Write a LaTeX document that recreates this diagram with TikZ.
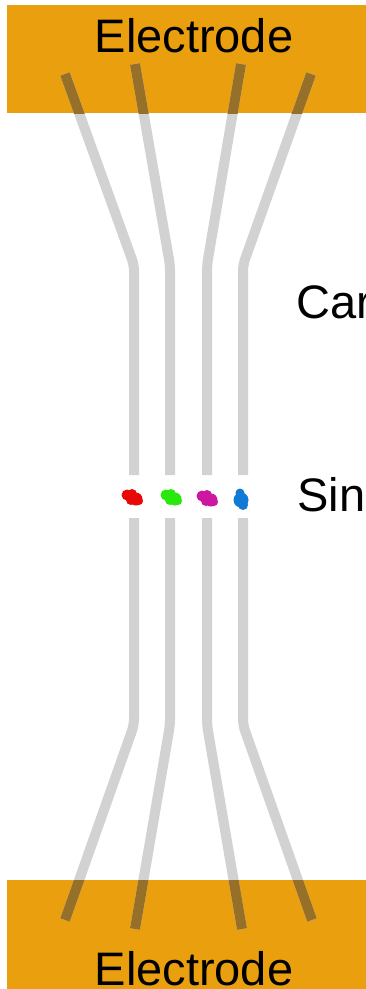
\documentclass[tikz,border=0pt]{standalone}
\usepackage{fontspec}
\setmainfont{Liberation Sans}

\definecolor{electrode}{RGB}{234,160,14}
\definecolor{tubegray}{RGB}{210,210,210}
\definecolor{tubedark}{RGB}{150,112,40}
\definecolor{molred}{RGB}{232,8,8}
\definecolor{molgreen}{RGB}{40,232,12}
\definecolor{molmagenta}{RGB}{204,24,160}
\definecolor{molblue}{RGB}{16,122,212}

\tikzset{every picture/.style={line width=0.75pt}}
\tikzset{
  tube/.style={line width=10pt, line cap=butt, line join=round, rounded corners=6pt},
  label/.style={inner sep=0pt, font=\fontsize{47}{47}\selectfont},
}

\begin{document}
\begin{tikzpicture}[x=1pt,y=1pt,yscale=-1]
	\useasboundingbox (0,0) rectangle (366,989);
	\clip (0,0) rectangle (366,989);
	
	%Shape: Rectangle [id:electrode top] 
	\fill [electrode] (7,5) rectangle (370,113);
	%Shape: Rectangle [id:electrode bottom] 
	\fill [electrode] (7,880) rectangle (370,995);
	
	%Nanotubes, upper halves 
	\draw [tube, tubegray] (65,74) -- (134,265) -- (134,475);
	\draw [tube, tubegray] (135,64) -- (170,265) -- (170,475);
	\draw [tube, tubegray] (241,64) -- (207,265) -- (207,475);
	\draw [tube, tubegray] (311,74) -- (243,265) -- (243,475);
	%Nanotubes, lower halves 
	\draw [tube, tubegray] (134,518) -- (134,725) -- (65,920);
	\draw [tube, tubegray] (170,518) -- (170,725) -- (135,929);
	\draw [tube, tubegray] (207,518) -- (207,725) -- (242,929);
	\draw [tube, tubegray] (243,518) -- (243,725) -- (312,920);
	
	%Tube ends lying on the electrodes 
	\begin{scope}
		\clip (7,5) rectangle (370,113);
		\draw [tube, tubedark] (65,74) -- (134,265);
		\draw [tube, tubedark] (135,64) -- (170,265);
		\draw [tube, tubedark] (241,64) -- (207,265);
		\draw [tube, tubedark] (311,74) -- (243,265);
	\end{scope}
	\begin{scope}
		\clip (7,880) rectangle (370,995);
		\draw [tube, tubedark] (134,725) -- (65,920);
		\draw [tube, tubedark] (170,725) -- (135,929);
		\draw [tube, tubedark] (207,725) -- (242,929);
		\draw [tube, tubedark] (243,725) -- (312,920);
	\end{scope}
	
	%Molecules in the gaps 
	\foreach \mx/\my/\mc in {132/497/molred, 171/497/molgreen, 207/498/molmagenta} {
		\fill [\mc] (\mx-5,\my-2) circle (5.5);
		\fill [\mc] (\mx+4,\my+2) circle (6.5);
		\fill [\mc] (\mx,\my-3) circle (5);
		\fill [\mc] (\mx-1,\my+3) circle (5);
		\fill [\mc] (\mx+7,\my+4) circle (4);
	}
	\fill [molblue] (241,500) circle (7.5);
	\fill [molblue] (240,493) circle (4.5);
	\fill [molblue] (243,505) circle (5);
	
	% Text Node
	\node [label, anchor=base] (elTop) at (194,52) {Electrode};
	% Text Node
	\node [label, anchor=base] (elBot) at (194,985) {Electrode};
	% Text Node
	\node [label, anchor=base west] (tubeLabel) at (296,318) {Car};
	% Text Node
	\node [label, anchor=base west] (molLabel) at (297,511) {Sin};
	
\end{tikzpicture}
\end{document}
